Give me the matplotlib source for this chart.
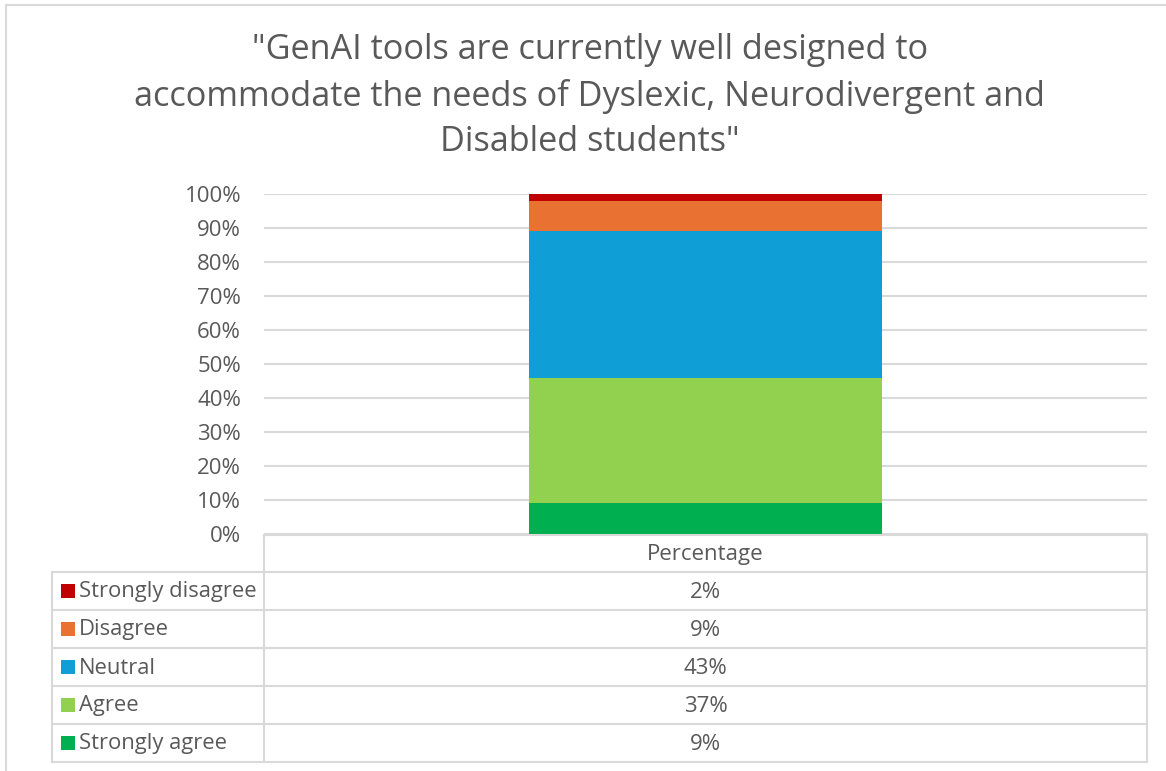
import matplotlib.pyplot as plt
from matplotlib.lines import Line2D
from matplotlib.patches import Rectangle

# survey responses, bottom of the stack first
categories = ['Strongly agree', 'Agree', 'Neutral', 'Disagree', 'Strongly disagree']
values = [9, 37, 43, 9, 2]
colors = ['#00B050', '#92D050', '#0F9ED5', '#E97132', '#C00000']
series_name = 'Percentage'
title = ('"GenAI tools are currently well designed to\n'
         'accommodate the needs of Dyslexic, Neurodivergent and\n'
         'Disabled students"')

W, H = 1166, 771
TEXT = '#595959'
LINE = '#D9D9D9'
FS = 16
plt.rcParams['font.family'] = ['Open Sans', 'DejaVu Sans']

fig = plt.figure(figsize=(W / 100, H / 100), dpi=100)


def fx(px):
    return px / W


def fy(py):
    return 1 - py / H


# plot area
x0, x1, y_top, y_bot = 264, 1147, 194, 534
ax = fig.add_axes([fx(x0), fy(y_bot), fx(x1) - fx(x0), fy(y_top) - fy(y_bot)])

bottom = 0
for cat, val, col in zip(categories, values, colors):
    ax.bar(0, val, bottom=bottom, width=0.4, color=col, label=cat, zorder=3)
    bottom += val

ax.set_xlim(-0.5, 0.5)
ax.set_ylim(0, 100)
ax.set_yticks(range(0, 101, 10))
ax.set_yticklabels([f'{t}%' for t in range(0, 101, 10)])
ax.tick_params(axis='y', length=0, pad=16.5, labelsize=FS, labelcolor=TEXT)
ax.set_xticks([])
ax.grid(axis='y', color=LINE, linewidth=1.5, zorder=0)
for s in ax.spines.values():
    s.set_visible(False)

fig.text(0.506, fy(96), title, ha='center', va='center', fontsize=24.7,
         color=TEXT, linespacing=1.42)

# chart border (top and left edges)
fig.add_artist(Line2D([fx(6), 1], [fy(5), fy(5)], color=LINE, lw=1.5))
fig.add_artist(Line2D([fx(6), fx(6)], [fy(5), 0], color=LINE, lw=1.5))

# data table below the plot
t_left, t_mid, t_right = 52, 264, 1147
head_top, head_bot = 535, 572
row_h = 38
lw = 1.5
fig.add_artist(Line2D([fx(t_mid), fx(t_right)], [fy(head_top)] * 2, color=LINE, lw=lw))
fig.add_artist(Line2D([fx(t_mid), fx(t_mid)], [fy(head_top), fy(head_bot + 5 * row_h)],
                      color=LINE, lw=lw))
fig.add_artist(Line2D([fx(t_right), fx(t_right)], [fy(head_top), fy(head_bot + 5 * row_h)],
                      color=LINE, lw=lw))
fig.add_artist(Line2D([fx(t_left), fx(t_left)], [fy(head_bot), fy(head_bot + 5 * row_h)],
                      color=LINE, lw=lw))
fig.text(fx((t_mid + t_right) / 2), fy((head_top + head_bot) / 2 + 1), series_name,
         ha='center', va='center', fontsize=FS, color=TEXT)

rows = list(zip(categories, values, colors))[::-1]
for i, (cat, val, col) in enumerate(rows):
    top = head_bot + i * row_h
    fig.add_artist(Line2D([fx(t_left), fx(t_right)], [fy(top)] * 2, color=LINE, lw=lw))
    yc = top + row_h / 2
    fig.add_artist(Rectangle((fx(61), fy(yc + 7)), fx(14), 14 / H,
                             facecolor=col, edgecolor='none'))
    fig.text(fx(79), fy(yc + 1), cat, ha='left', va='center', fontsize=15.8, color=TEXT)
    fig.text(fx((t_mid + t_right) / 2), fy(yc + 1), f'{val}%', ha='center', va='center',
             fontsize=FS, color=TEXT)
last = head_bot + 5 * row_h
fig.add_artist(Line2D([fx(t_left), fx(t_right)], [fy(last)] * 2, color=LINE, lw=lw))

fig.savefig('out.png', dpi=100)
